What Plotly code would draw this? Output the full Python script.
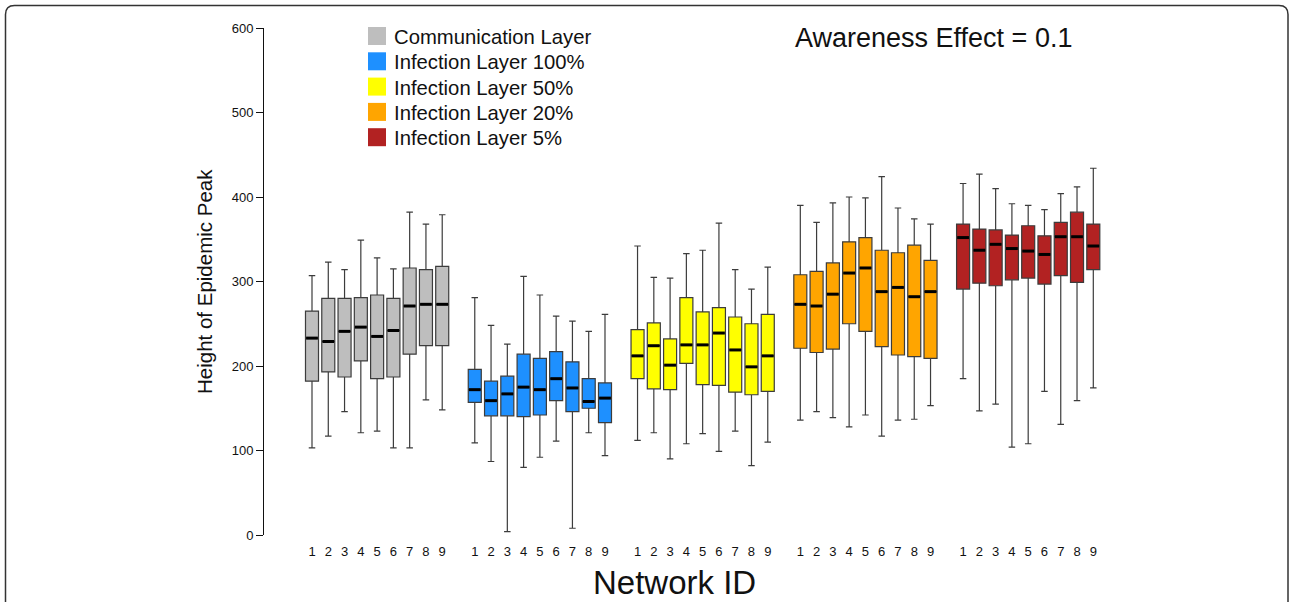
import plotly.graph_objects as go

# ---- data: peak height per network, five layers, nine networks each ----
network_ids = ["1", "2", "3", "4", "5", "6", "7", "8", "9"]
layer_names = ["Communication Layer", "Infection Layer 100%", "Infection Layer 50%",
               "Infection Layer 20%", "Infection Layer 5%"]
layer_colors = ["#BEBEBE", "#1E90FF", "#FFFF00", "#FFA500", "#B22222"]

comm_hi = [307, 323, 314, 349, 328, 315, 382, 368, 379]
comm_q3 = [265, 280, 280, 281, 284, 280, 316, 314, 318]
comm_med = [233, 229, 241, 246, 235, 242, 271, 273, 273]
comm_q1 = [182, 193, 187, 206, 185, 187, 214, 224, 224]
comm_lo = [103, 117, 146, 121, 123, 103, 103, 160, 148]

inf100_hi = [281, 248, 226, 306, 284, 259, 253, 241, 261]
inf100_q3 = [196, 182, 188, 214, 209, 217, 205, 185, 180]
inf100_med = [172, 159, 167, 175, 172, 185, 174, 158, 162]
inf100_q1 = [157, 141, 141, 140, 142, 159, 146, 150, 133]
inf100_lo = [109, 87, 4, 80, 92, 111, 8, 121, 94]

inf50_hi = [342, 305, 304, 333, 337, 369, 314, 291, 317]
inf50_q3 = [243, 251, 232, 281, 264, 269, 258, 250, 261]
inf50_med = [212, 224, 201, 225, 225, 239, 219, 199, 212]
inf50_q1 = [185, 173, 172, 203, 178, 177, 169, 166, 170]
inf50_lo = [112, 121, 90, 108, 120, 99, 123, 82, 110]

inf20_hi = [390, 370, 393, 400, 399, 424, 387, 374, 368]
inf20_q3 = [308, 312, 322, 347, 352, 337, 334, 343, 325]
inf20_med = [273, 271, 285, 310, 316, 288, 293, 282, 288]
inf20_q1 = [221, 216, 220, 250, 241, 223, 213, 211, 209]
inf20_lo = [136, 146, 139, 128, 142, 117, 136, 137, 153]

inf5_hi = [416, 427, 410, 392, 390, 385, 404, 412, 434]
inf5_q3 = [368, 362, 361, 355, 366, 354, 370, 382, 368]
inf5_med = [352, 337, 344, 339, 336, 332, 353, 353, 342]
inf5_q1 = [291, 298, 295, 302, 304, 297, 307, 299, 314]
inf5_lo = [185, 147, 155, 104, 108, 170, 131, 159, 174]

y_ticks = [0, 100, 200, 300, 400, 500, 600]

stats = [
    (comm_lo, comm_q1, comm_med, comm_q3, comm_hi),
    (inf100_lo, inf100_q1, inf100_med, inf100_q3, inf100_hi),
    (inf50_lo, inf50_q1, inf50_med, inf50_q3, inf50_hi),
    (inf20_lo, inf20_q1, inf20_med, inf20_q3, inf20_hi),
    (inf5_lo, inf5_q1, inf5_med, inf5_q3, inf5_hi),
]

# ---- page geometry (pixels) ----
W, H = 1290, 602
L, R, T, B = 264, 1130, 28, 535
BOX_W = 0.8


def px_x(px):
    return (px - L) / (R - L)


def px_y(py):
    return (B - py) / (B - T)


fig = go.Figure()
tick_pos, tick_txt = [], []
shapes = []

for g, (lo, q1, med, q3, hi) in enumerate(stats):
    pos = [g * 10 + j + 1 for j in range(len(network_ids))]
    tick_pos += pos
    tick_txt += network_ids
    fig.add_trace(go.Box(
        x=pos, lowerfence=lo, q1=q1, median=med, q3=q3, upperfence=hi,
        fillcolor=layer_colors[g], width=BOX_W, whiskerwidth=0.5,
        line=dict(color="#3c3c3c", width=1.2), name=layer_names[g],
        showlegend=False, hoverinfo="skip",
    ))
    # heavy median bars
    for p, m in zip(pos, med):
        shapes.append(dict(type="line", xref="x", yref="y",
                           x0=p - BOX_W / 2 + 0.04, x1=p + BOX_W / 2 - 0.04,
                           y0=m, y1=m, line=dict(color="black", width=3)))

# hand-built legend: filled squares with labels
for i, (name, col) in enumerate(zip(layer_names, layer_colors)):
    cy = 36 + i * 25.3
    shapes.append(dict(type="rect", xref="paper", yref="paper",
                       x0=px_x(368), x1=px_x(386), y0=px_y(cy + 9), y1=px_y(cy - 9),
                       fillcolor=col, line=dict(width=0)))

annotations = []
for i, name in enumerate(layer_names):
    cy = 36 + i * 25.3
    annotations.append(dict(text=name, xref="paper", yref="paper",
                            x=px_x(392), y=px_y(cy + 1), xanchor="left", yanchor="middle",
                            showarrow=False, font=dict(size=20.3, color="#111")))

annotations.append(dict(text="Awareness Effect = 0.1", xref="paper", yref="paper",
                        x=px_x(793), y=px_y(38), xanchor="left", yanchor="middle",
                        showarrow=False, font=dict(size=27, color="#111")))
annotations.append(dict(text="Network ID", xref="paper", yref="paper",
                        x=px_x(674), y=px_y(582), xanchor="center", yanchor="middle",
                        showarrow=False, font=dict(size=33, color="#111")))
annotations.append(dict(text="Height of Epidemic Peak", xref="paper", yref="paper",
                        x=px_x(204), y=px_y(282), xanchor="center", yanchor="middle",
                        textangle=-90, showarrow=False, font=dict(size=20.5, color="#111")))

# rounded page frame, open at the bottom
fx0, fx1, fy0, fy1, rad = 5.5, 1288, 5.5, 640, 9
path = (f"M {px_x(fx0)},{px_y(fy1)} L {px_x(fx0)},{px_y(fy0 + rad)} "
        f"Q {px_x(fx0)},{px_y(fy0)} {px_x(fx0 + rad)},{px_y(fy0)} "
        f"L {px_x(fx1 - rad)},{px_y(fy0)} "
        f"Q {px_x(fx1)},{px_y(fy0)} {px_x(fx1)},{px_y(fy0 + rad)} "
        f"L {px_x(fx1)},{px_y(fy1)}")
shapes.append(dict(type="path", xref="paper", yref="paper", path=path,
                   line=dict(color="#333", width=1.5)))

unit = (1093.3 - 312) / 48
x_lo = 1 - (312 - L) / unit
x_hi = x_lo + (R - L) / unit

fig.update_layout(
    width=W, height=H,
    margin=dict(l=L, r=W - R, t=T, b=H - B),
    paper_bgcolor="white", plot_bgcolor="white",
    font=dict(family="Liberation Sans, Arial, sans-serif", color="#111"),
    xaxis=dict(range=[x_lo, x_hi], showgrid=False, zeroline=False, showline=False,
               tickvals=tick_pos, ticktext=tick_txt, ticks="outside", ticklen=4,
               tickcolor="rgba(0,0,0,0)", tickfont=dict(size=13, color="#111")),
    yaxis=dict(range=[0, 600], showgrid=False, zeroline=False, showline=True,
               linecolor="#111", linewidth=1, ticks="outside", ticklen=7,
               tickcolor="#111", tickvals=y_ticks, tickfont=dict(size=13, color="#111")),
    shapes=shapes, annotations=annotations, showlegend=False,
)

fig.write_html("out.html")
